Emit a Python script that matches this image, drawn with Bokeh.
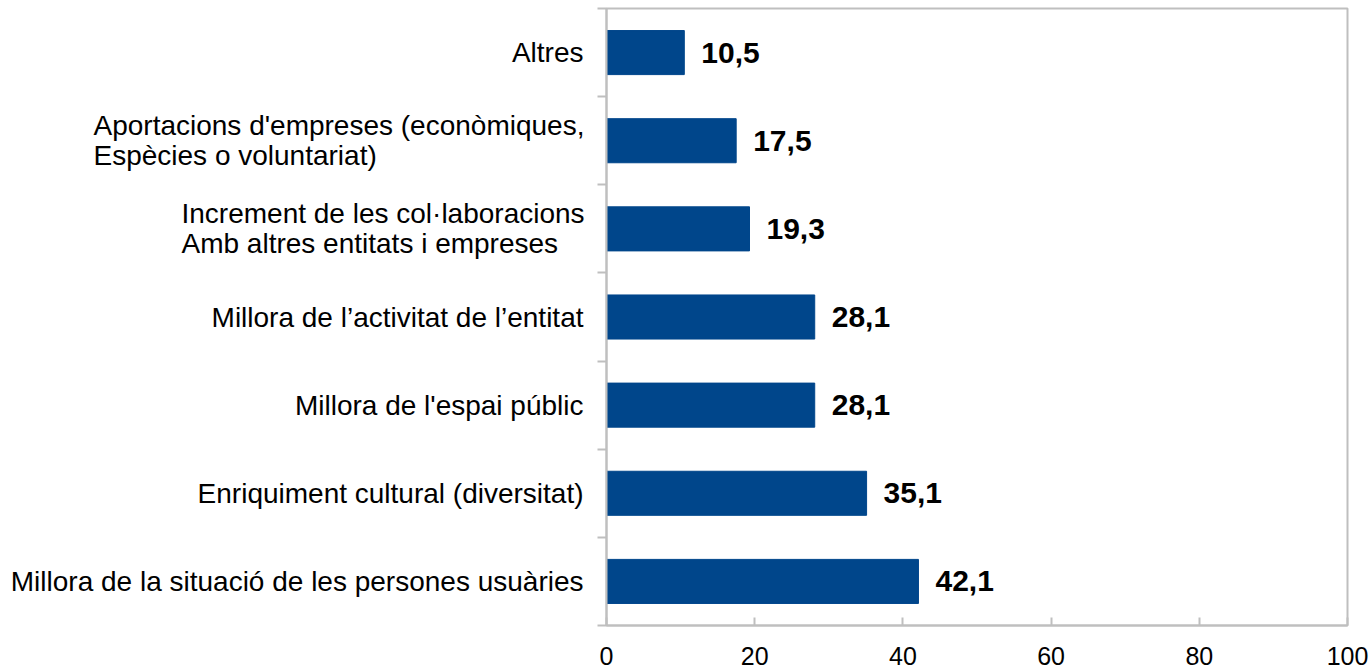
from bokeh.plotting import figure
from bokeh.models import ColumnDataSource, Range1d, FixedTicker, LabelSet
from bokeh.layouts import row
from bokeh.core.properties import value
from bokeh.embed import file_html
from bokeh.resources import INLINE

# Data (bottom to top)
categories = [
    "Millora de la situació de les persones usuàries",
    "Enriquiment cultural (diversitat)",
    "Millora de l'espai públic",
    "Millora de l\u2019activitat de l\u2019entitat",
    "Increment de les col·laboracions\nAmb altres entitats i empreses",
    "Aportacions d'empreses (econòmiques,\nEspècies o voluntariat)",
    "Altres",
]
values = [42.1, 35.1, 28.1, 28.1, 19.3, 17.5, 10.5]
x_ticks = [0, 20, 40, 60, 80, 100]

FONT = "Liberation Sans"
BAR = "#00468B"
GRAY = "#BFBFBF"
LEFT_W = 590

pos = list(range(len(categories)))
src = ColumnDataSource(dict(
    y=pos,
    v=values,
    lab=[f"{v:.1f}".replace(".", ",") for v in values],
))
yr = Range1d(-0.5, len(categories) - 0.5)

# ---- main chart ----
p = figure(width=1371 - LEFT_W, height=670, output_backend="svg", toolbar_location=None,
           x_range=Range1d(0, 100), y_range=yr,
           min_border_left=16, min_border_right=24, min_border_top=8, min_border_bottom=45)

p.hbar(y="y", right="v", left=0, height=0.5, source=src, fill_color=BAR, line_color=BAR)

p.xgrid.visible = False
p.ygrid.visible = False
p.outline_line_color = GRAY
p.outline_line_width = 2

xa = p.xaxis[0]
xa.ticker = FixedTicker(ticks=x_ticks)
xa.axis_line_color = GRAY
xa.axis_line_width = 2
xa.major_tick_line_color = GRAY
xa.major_tick_line_width = 2
xa.major_tick_in = 8
xa.major_tick_out = 0
xa.minor_tick_line_color = None
xa.major_label_text_font = FONT
xa.major_label_text_font_size = "25px"
xa.major_label_text_color = "#000000"
xa.major_label_standoff = 21

ya = p.yaxis[0]
ya.ticker = FixedTicker(ticks=[i - 0.5 for i in range(len(categories) + 1)])
ya.axis_line_color = GRAY
ya.axis_line_width = 2
ya.major_tick_line_color = GRAY
ya.major_tick_line_width = 2
ya.major_tick_in = 0
ya.major_tick_out = 9
ya.minor_tick_line_color = None
ya.major_label_text_font_size = "0px"
ya.major_label_text_alpha = 0
ya.major_label_standoff = 0

p.add_layout(LabelSet(x="v", y="y", text="lab", source=src, x_offset=17,
                      text_align="left", text_baseline="middle",
                      text_font=value(FONT), text_font_size="30px", text_font_style="bold",
                      text_color="#000000"))

# ---- category label panel (shares the y range) ----
lp = figure(width=LEFT_W, height=670, output_backend="svg", toolbar_location=None,
            x_range=Range1d(-LEFT_W, 0), y_range=yr,
            x_axis_location=None, y_axis_location=None,
            min_border_left=0, min_border_right=0, min_border_top=8, min_border_bottom=45)
lp.xgrid.visible = False
lp.ygrid.visible = False
lp.outline_line_color = None

single = dict(x=[], y=[], t=[])
multi = {}
for i, c in enumerate(categories):
    lines = c.split("\n")
    if len(lines) == 1:
        single["x"].append(0)
        single["y"].append(i)
        single["t"].append(c)
    else:
        multi[i] = lines

lp.text(x="x", y="y", text="t", source=ColumnDataSource(single), x_offset=-7,
        text_align="right", text_baseline="middle",
        text_font=value(FONT), text_font_size="28px", text_color="#000000")

left_offsets = {4: -409, 5: -497}
for i, lines in multi.items():
    n = len(lines)
    for k, ln in enumerate(lines):
        lp.text(x=[0], y=[i], text=[ln], x_offset=left_offsets[i], y_offset=-15 * (n - 1) + 30 * k,
                text_align="left", text_baseline="middle",
                text_font=value(FONT), text_font_size="28px", text_color="#000000")

layout = row(lp, p, spacing=0)
open("out.html", "w").write(file_html(layout, INLINE))
